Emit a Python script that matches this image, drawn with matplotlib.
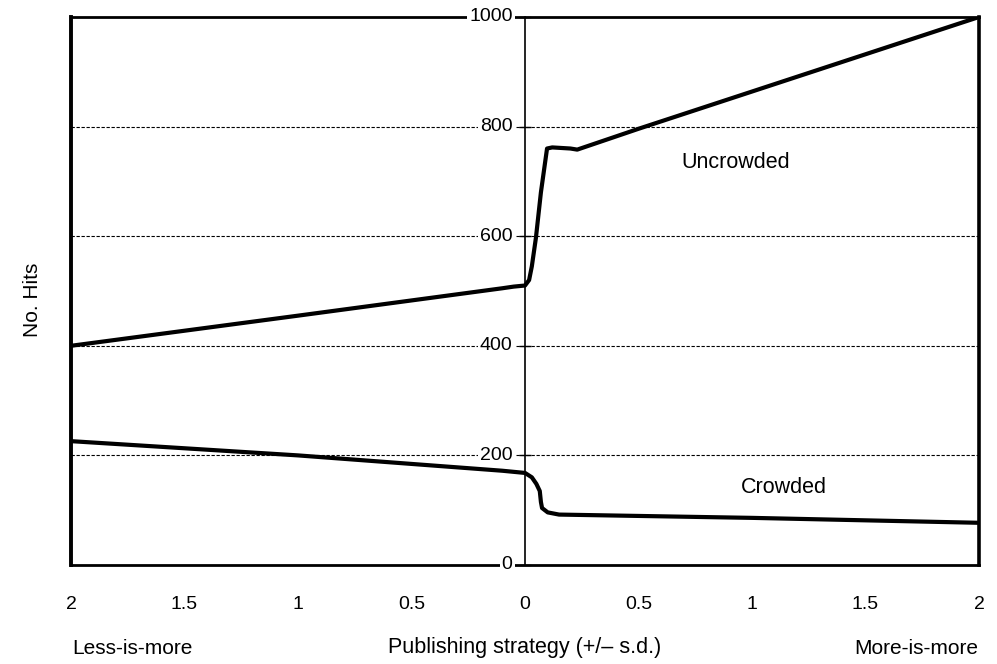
import numpy as np
from matplotlib import pyplot as plt

plt.rcParams['font.family'] = ['Liberation Sans', 'DejaVu Sans']

# values (x in s.d., y in No. Hits)
unc_x = [-2.0, -1.0, -0.1, -0.05, 0.0, 0.018, 0.03, 0.048, 0.07, 0.097, 0.12, 0.2, 0.23, 0.5, 1.0, 1.5, 2.0]
unc_y = [400, 455, 505, 508, 510, 520, 545, 597, 680, 760, 762, 760, 758, 796, 864, 932, 1000]

crw_x = [-2.0, -1.0, -0.1, -0.05, 0.0, 0.03, 0.05, 0.065, 0.07, 0.075, 0.1, 0.15, 1.0, 2.0]
crw_y = [226, 200, 172, 170, 168, 160, 148, 135, 115, 104, 96, 92, 86, 77]

xticks = [-2, -1.5, -1, -0.5, 0, 0.5, 1, 1.5, 2]
xticklabels = ['2', '1.5', '1', '0.5', '0', '0.5', '1', '1.5', '2']
yticks = [0, 200, 400, 600, 800, 1000]

fig = plt.figure(figsize=(9.97, 6.64), dpi=100)
ax = fig.add_axes([0.0712, 0.1491, 0.9108, 0.8253])
ax.set_xlim(-2, 2)
ax.set_ylim(0, 1000)

# frame
ax.spines['left'].set_position(('data', 0))
ax.spines['left'].set_linewidth(1.2)
ax.spines['top'].set_linewidth(2)
ax.spines['bottom'].set_linewidth(2)
ax.spines['right'].set_linewidth(2.6)
ax.axvline(-2, color='black', lw=2.8, clip_on=False, zorder=3)

# dashed grid
for v in yticks[1:-1]:
    ax.axhline(v, color='black', lw=0.8, ls=(0, (3, 1.5)), zorder=1)

ax.set_yticks(yticks)
ax.tick_params(axis='y', direction='inout', length=8, width=1, labelleft=False)
for v in yticks:
    ax.text(-0.055, v, str(v), ha='right', va='center', fontsize=14, zorder=5,
            bbox=dict(facecolor='white', edgecolor='none', pad=1.5))

ax.set_xticks(xticks)
ax.set_xticklabels(xticklabels, fontsize=14)
ax.tick_params(axis='x', length=0, pad=22)

ax.plot(unc_x, unc_y, color='black', lw=3, solid_capstyle='butt', zorder=4)
ax.plot(crw_x, crw_y, color='black', lw=3, solid_capstyle='butt', zorder=4)

ax.text(0.93, 735, 'Uncrowded', ha='center', va='center', fontsize=15.5)
ax.text(1.14, 141, 'Crowded', ha='center', va='center', fontsize=15.5)

fig.text(32 / 997, 1 - 300 / 664, 'No. Hits', rotation=90, ha='center', va='center', fontsize=15)
fig.text(72 / 997, 1 - 648 / 664, 'Less-is-more', ha='left', va='center', fontsize=15)
fig.text(525 / 997, 1 - 648 / 664, 'Publishing strategy (+/\u2013 s.d.)', ha='center', va='center', fontsize=15.5)
fig.text(978 / 997, 1 - 648 / 664, 'More-is-more', ha='right', va='center', fontsize=15)

fig.savefig('out.png', dpi=100)
